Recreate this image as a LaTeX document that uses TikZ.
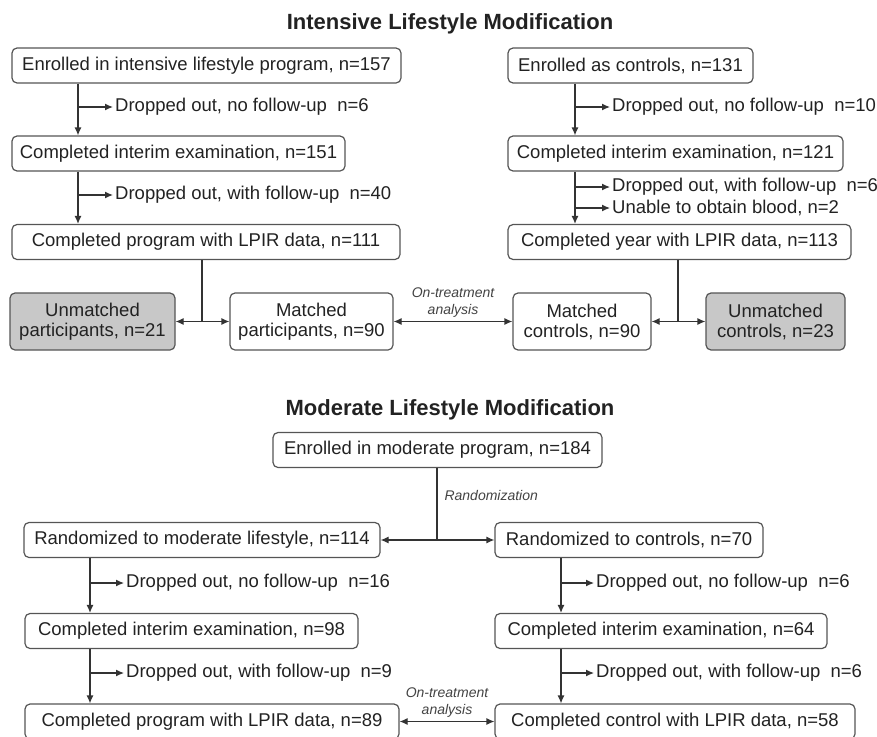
\documentclass[tikz,border=0pt]{standalone}
\usepackage{fontspec}
\setmainfont{Liberation Sans}
\usetikzlibrary{arrows.meta}
\definecolor{ink}{HTML}{222222}
\definecolor{boxgray}{HTML}{555555}
\definecolor{linegray}{HTML}{333333}
\definecolor{unmatched}{HTML}{C8C8C8}
\begin{document}
\begin{tikzpicture}[x=1pt, y=-1pt]
        \tikzstyle{stage} = [draw=boxgray, rounded corners=5pt, line width=1.2pt, minimum height=35pt, inner sep=2pt, text=ink, font=\fontsize{18.5}{21}\selectfont]
        \tikzstyle{pair} = [stage, minimum height=57pt, align=center, font=\fontsize{18.5}{20}\selectfont]
        \tikzstyle{note} = [anchor=west, inner xsep=2pt, inner ysep=0pt, text=ink, font=\fontsize{18.5}{21}\selectfont]
        \tikzstyle{aside} = [text=ink!85, align=center, font=\fontsize{14}{17.5}\selectfont\itshape]
        \tikzstyle{title} = [text=ink, font=\fontsize{22}{26}\selectfont\bfseries]
        \tikzstyle{flow} = [draw=linegray, line width=1.2pt, >={Latex[length=8pt,width=7pt]}]
        \useasboundingbox (0,0) rectangle (877,736);

        % intensive lifestyle modification
        \node[title] (ttl1) at (450,24) {Intensive Lifestyle Modification};
        \node[stage, minimum width=389] (enr1) at (206.5,65.5) {Enrolled in intensive lifestyle program, n=157};
        \node[stage, minimum width=333] (int1) at (178.5,153.5) {Completed interim examination, n=151};
        \node[stage, minimum width=388] (lpir1) at (206,242) {Completed program with LPIR data, n=111};
        \node[stage, minimum width=245] (enr2) at (630.5,65.5) {Enrolled as controls, n=131};
        \node[stage, minimum width=335] (int2) at (675.5,153.5) {Completed interim examination, n=121};
        \node[stage, minimum width=343] (lpir2) at (679.5,242) {Completed year with LPIR data, n=113};
        \node[pair, fill=unmatched, minimum width=165] (unm1) at (92.5,321.5) {Unmatched\\participants, n=21};
        \node[pair, minimum width=163] (mat1) at (311.5,321.5) {Matched\\participants, n=90};
        \node[pair, minimum width=138] (mat2) at (582,321.5) {Matched\\controls, n=90};
        \node[pair, fill=unmatched, minimum width=139] (unm2) at (775.5,321.5) {Unmatched\\controls, n=23};

        \node[note] (drop1) at (113,107) {Dropped out, no follow-up\ \ n=6};
        \node[note] (drop2) at (113,195) {Dropped out, with follow-up\ \ n=40};
        \node[note] (drop3) at (610,107) {Dropped out, no follow-up\ \ n=10};
        \node[note] (drop4) at (610,187) {Dropped out, with follow-up\ \ n=6};
        \node[note] (drop5) at (610,208) {Unable to obtain blood, n=2};

        \coordinate (tr1) at (78,107);
        \coordinate (tr2) at (78,195);
        \coordinate (tr3) at (575,107);
        \coordinate (tr4) at (575,187);
        \coordinate (tr5) at (575,208);
        \draw[flow, ->] (tr1 |- enr1.south) -- (tr1 |- int1.north);
        \draw[flow, ->] (tr1) -- (drop1.west);
        \draw[flow, ->] (tr2 |- int1.south) -- (tr2 |- lpir1.north);
        \draw[flow, ->] (tr2) -- (drop2.west);
        \draw[flow, ->] (tr3 |- enr2.south) -- (tr3 |- int2.north);
        \draw[flow, ->] (tr3) -- (drop3.west);
        \draw[flow, ->] (tr4 |- int2.south) -- (tr4 |- lpir2.north);
        \draw[flow, ->] (tr4) -- (drop4.west);
        \draw[flow, ->] (tr5) -- (drop5.west);

        \coordinate (sp1) at (202,321.5);
        \coordinate (sp2) at (678,321.5);
        \draw[flow] (lpir1.south -| sp1) -- (sp1);
        \draw[flow, ->] (sp1) -- (unm1.east);
        \draw[flow, ->] (sp1) -- (mat1.west);
        \draw[flow] (lpir2.south -| sp2) -- (sp2);
        \draw[flow, ->] (sp2) -- (mat2.east);
        \draw[flow, ->] (sp2) -- (unm2.west);
        \draw[flow, <->] (mat1.east) -- (mat2.west) node[aside, midway, above] (ont1) {On-treatment\\analysis};

        % moderate lifestyle modification
        \node[title] (ttl2) at (450,410) {Moderate Lifestyle Modification};
        \node[stage, minimum width=329] (enr3) at (437.5,450) {Enrolled in moderate program, n=184};
        \node[stage, minimum width=356] (rnd1) at (202,540) {Randomized to moderate lifestyle, n=114};
        \node[stage, minimum width=268] (rnd2) at (629,540) {Randomized to controls, n=70};
        \node[stage, minimum width=333] (int3) at (191.5,631) {Completed interim examination, n=98};
        \node[stage, minimum width=332] (int4) at (661,631) {Completed interim examination, n=64};
        \node[stage, minimum width=374] (lpir3) at (212,721.5) {Completed program with LPIR data, n=89};
        \node[stage, minimum width=360] (lpir4) at (675,721.5) {Completed control with LPIR data, n=58};

        \coordinate (rz) at (437,540);
        \draw[flow] (enr3.south -| rz) -- (rz);
        \draw[flow, ->] (rz) -- (rnd1.east);
        \draw[flow, ->] (rz) -- (rnd2.west);
        \node[aside, anchor=west] (rzl) at (441,495) {Randomization};

        \node[note] (drop6) at (124,583) {Dropped out, no follow-up\ \ n=16};
        \node[note] (drop7) at (124,673) {Dropped out, with follow-up\ \ n=9};
        \node[note] (drop8) at (594,583) {Dropped out, no follow-up\ \ n=6};
        \node[note] (drop9) at (594,673) {Dropped out, with follow-up\ \ n=6};

        \coordinate (tr6) at (90,583);
        \coordinate (tr7) at (90,673);
        \coordinate (tr8) at (561,583);
        \coordinate (tr9) at (561,673);
        \draw[flow, ->] (tr6 |- rnd1.south) -- (tr6 |- int3.north);
        \draw[flow, ->] (tr6) -- (drop6.west);
        \draw[flow, ->] (tr7 |- int3.south) -- (tr7 |- lpir3.north);
        \draw[flow, ->] (tr7) -- (drop7.west);
        \draw[flow, ->] (tr8 |- rnd2.south) -- (tr8 |- int4.north);
        \draw[flow, ->] (tr8) -- (drop8.west);
        \draw[flow, ->] (tr9 |- int4.south) -- (tr9 |- lpir4.north);
        \draw[flow, ->] (tr9) -- (drop9.west);
        \draw[flow, <->] (lpir3.east) -- (lpir4.west) node[aside, midway, above] (ont2) {On-treatment\\analysis};
\end{tikzpicture}
\end{document}
